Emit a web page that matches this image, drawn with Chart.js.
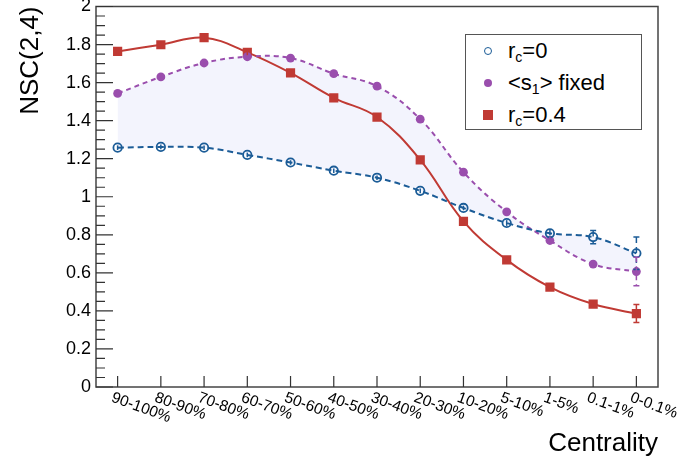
<!DOCTYPE html>
<html>
<head>
<meta charset="utf-8">
<script src="https://cdn.jsdelivr.net/npm/chart.js@4.4.1/dist/chart.umd.min.js"></script>
<style>
  body { margin: 0; background: #fff; }
  #wrap { position: relative; width: 697px; height: 461px; font-family: "Liberation Sans", Arial, sans-serif; }
  #legend { position: absolute; left: 465px; top: 34px; width: 175px; height: 94px; border: 1px solid #555; background: #fff; }
  .row { position: absolute; left: 0; height: 30px; line-height: 30px; font-size: 22px; color: #000; white-space: nowrap; }
  .row .txt { position: absolute; left: 42px; top: 0; }
  .row sub { font-size: 14px; vertical-align: -4px; line-height: 0; }
  .mk { position: absolute; box-sizing: border-box; }
</style>
</head>
<body>
<div id="wrap">
  <canvas id="chart" width="697" height="461"></canvas>
  <div id="legend">
    <div class="row" style="top:1px"><span class="mk" style="left:18px;top:11px;width:8px;height:8px;border-radius:50%;border:1.5px solid #1b5c97"></span><span class="txt">r<sub>c</sub>=0</span></div>
    <div class="row" style="top:33px"><span class="mk" style="left:18px;top:11px;width:8px;height:8px;border-radius:50%;background:#9a4ead"></span><span class="txt">&lt;s<sub>1</sub>&gt; fixed</span></div>
    <div class="row" style="top:65px"><span class="mk" style="left:17px;top:10px;width:10px;height:10px;background:#c03a34"></span><span class="txt">r<sub>c</sub>=0.4</span></div>
  </div>
</div>
<script>
// NSC(2,4) en fonction de la centralité - trois hypothèses
const categories = ['90-100%', '80-90%', '70-80%', '60-70%', '50-60%', '40-50%', '30-40%', '20-30%', '10-20%', '5-10%', '1-5%', '0.1-1%', '0-0.1%'];

const rc0 = [1.258, 1.262, 1.258, 1.220, 1.180, 1.137, 1.100, 1.031, 0.941, 0.862, 0.808, 0.788, 0.703];
const rc0Err = [0.012, 0.012, 0.012, 0.012, 0.012, 0.012, 0.012, 0.012, 0.012, 0.015, 0.02, 0.035, 0.085];

const s1Fixed = [1.543, 1.630, 1.703, 1.736, 1.729, 1.647, 1.581, 1.408, 1.129, 0.921, 0.770, 0.646, 0.607];
const s1FixedErr = [0.01, 0.01, 0.012, 0.012, 0.01, 0.01, 0.01, 0.01, 0.012, 0.015, 0.02, 0.02, 0.075];

const rc04 = [1.764, 1.799, 1.836, 1.759, 1.651, 1.520, 1.419, 1.194, 0.871, 0.668, 0.525, 0.436, 0.386];
const rc04Err = [0.02, 0.02, 0.02, 0.015, 0.01, 0.01, 0.01, 0.01, 0.01, 0.01, 0.01, 0.012, 0.047];

const yTicks = [0, 0.2, 0.4, 0.6, 0.8, 1, 1.2, 1.4, 1.6, 1.8, 2];

const BLUE = '#1b5c97';
const PURPLE = '#9a4ead';
const RED = '#c03a34';
const FONT = '"Liberation Sans", Arial, sans-serif';

const errors = [rc0Err, s1FixedErr, rc04Err];

// Barres d'erreur verticales
const errorBars = {
    id: 'errorBars',
    afterDatasetsDraw(chart) {
        const ctx = chart.ctx;
        const y = chart.scales.y;
        chart.data.datasets.forEach((ds, di) => {
            const meta = chart.getDatasetMeta(di);
            const errs = errors[di];
            ctx.save();
            ctx.strokeStyle = ds.borderColor;
            ctx.lineWidth = 1.5;
            ctx.setLineDash(ds.borderDash || []);
            meta.data.forEach((pt, i) => {
                const top = y.getPixelForValue(ds.data[i] + errs[i]);
                const bot = y.getPixelForValue(ds.data[i] - errs[i]);
                ctx.beginPath();
                ctx.moveTo(pt.x, top);
                ctx.lineTo(pt.x, bot);
                ctx.stroke();
                if (bot - top > 8) {
                    ctx.setLineDash([]);
                    ctx.beginPath();
                    ctx.moveTo(pt.x - 3, top); ctx.lineTo(pt.x + 3, top);
                    ctx.moveTo(pt.x - 3, bot); ctx.lineTo(pt.x + 3, bot);
                    ctx.stroke();
                    ctx.setLineDash(ds.borderDash || []);
                }
            });
            ctx.restore();
        });
    }
};

// Cadre, graduations internes, étiquettes inclinées et titres façon ROOT
const rootFrame = {
    id: 'rootFrame',
    afterDraw(chart) {
        const ctx = chart.ctx;
        const a = chart.chartArea;
        const x = chart.scales.x;
        const y = chart.scales.y;
        ctx.save();
        ctx.strokeStyle = '#444';
        ctx.lineWidth = 1.5;
        ctx.strokeRect(a.left, a.top, a.right - a.left, a.bottom - a.top);

        ctx.strokeStyle = '#333';
        ctx.lineWidth = 1.2;
        ctx.beginPath();
        for (let i = 0; i <= 40; i++) {
            const py = y.getPixelForValue(i * 0.05);
            const len = i % 4 === 0 ? 17 : 9;
            ctx.moveTo(a.left, py);
            ctx.lineTo(a.left + len, py);
        }
        categories.forEach((_, i) => {
            const px = x.getPixelForValue(i);
            ctx.moveTo(px, a.bottom);
            ctx.lineTo(px, a.bottom - 11);
        });
        ctx.stroke();

        ctx.fillStyle = '#000';
        ctx.font = '15.5px ' + FONT;
        ctx.textAlign = 'left';
        ctx.textBaseline = 'top';
        categories.forEach((c, i) => {
            const px = x.getPixelForValue(i);
            ctx.save();
            ctx.translate(px - 3, a.bottom + 3);
            ctx.rotate(20 * Math.PI / 180);
            ctx.fillText(c, 0, 0);
            ctx.restore();
        });

        ctx.font = '26px ' + FONT;
        ctx.textAlign = 'right';
        ctx.textBaseline = 'alphabetic';
        ctx.fillText('Centrality', a.right, 451);

        ctx.save();
        ctx.translate(38, a.top);
        ctx.rotate(-Math.PI / 2);
        ctx.textAlign = 'right';
        ctx.textBaseline = 'alphabetic';
        ctx.fillText('NSC(2,4)', 0, 0);
        ctx.restore();
        ctx.restore();
    }
};

const line = (label, data, color, extra) => Object.assign({
    label,
    data,
    borderColor: color,
    pointBorderColor: color,
    pointBackgroundColor: color,
    borderWidth: 2,
    tension: 0.4,
    fill: false
}, extra);

new Chart(document.getElementById('chart'), {
    type: 'line',
    data: {
        labels: categories,
        datasets: [
            line('rc=0', rc0, BLUE, { borderDash: [6, 4], pointStyle: 'circle', pointRadius: 4.2, pointBorderWidth: 1.8, pointBackgroundColor: 'rgba(255,255,255,0)' }),
            line('<s1> fixed', s1Fixed, PURPLE, { borderDash: [5, 4], pointStyle: 'circle', pointRadius: 4.4, pointBorderWidth: 0, fill: { target: 0 }, backgroundColor: 'rgba(200,205,245,0.22)' }),
            line('rc=0.4', rc04, RED, { pointStyle: 'rect', pointRadius: 6.5, pointBorderWidth: 0 })
        ]
    },
    options: {
        responsive: false,
        animation: false,
        devicePixelRatio: 1,
        layout: { padding: { left: 0, right: 39, top: 5, bottom: 0 } },
        plugins: {
            legend: { display: false },
            tooltip: { enabled: false },
            filler: { drawTime: 'beforeDatasetsDraw' }
        },
        scales: {
            x: {
                type: 'category',
                offset: true,
                grid: { display: false, drawTicks: false },
                border: { display: false },
                ticks: { display: false },
                afterFit(s) { s.height = 74; s.paddingLeft = 0; s.paddingRight = 0; }
            },
            y: {
                min: 0,
                max: 2,
                afterBuildTicks(s) { s.ticks = yTicks.map(v => ({ value: v })); },
                grid: { display: false, drawTicks: false },
                border: { display: false },
                ticks: {
                    padding: 5,
                    color: '#000',
                    font: { family: FONT, size: 18 },
                    callback: v => String(+v.toFixed(1))
                },
                afterFit(s) { s.width = 96; s.paddingTop = 0; s.paddingBottom = 0; }
            }
        }
    },
    plugins: [errorBars, rootFrame]
});
</script>
</body>
</html>
